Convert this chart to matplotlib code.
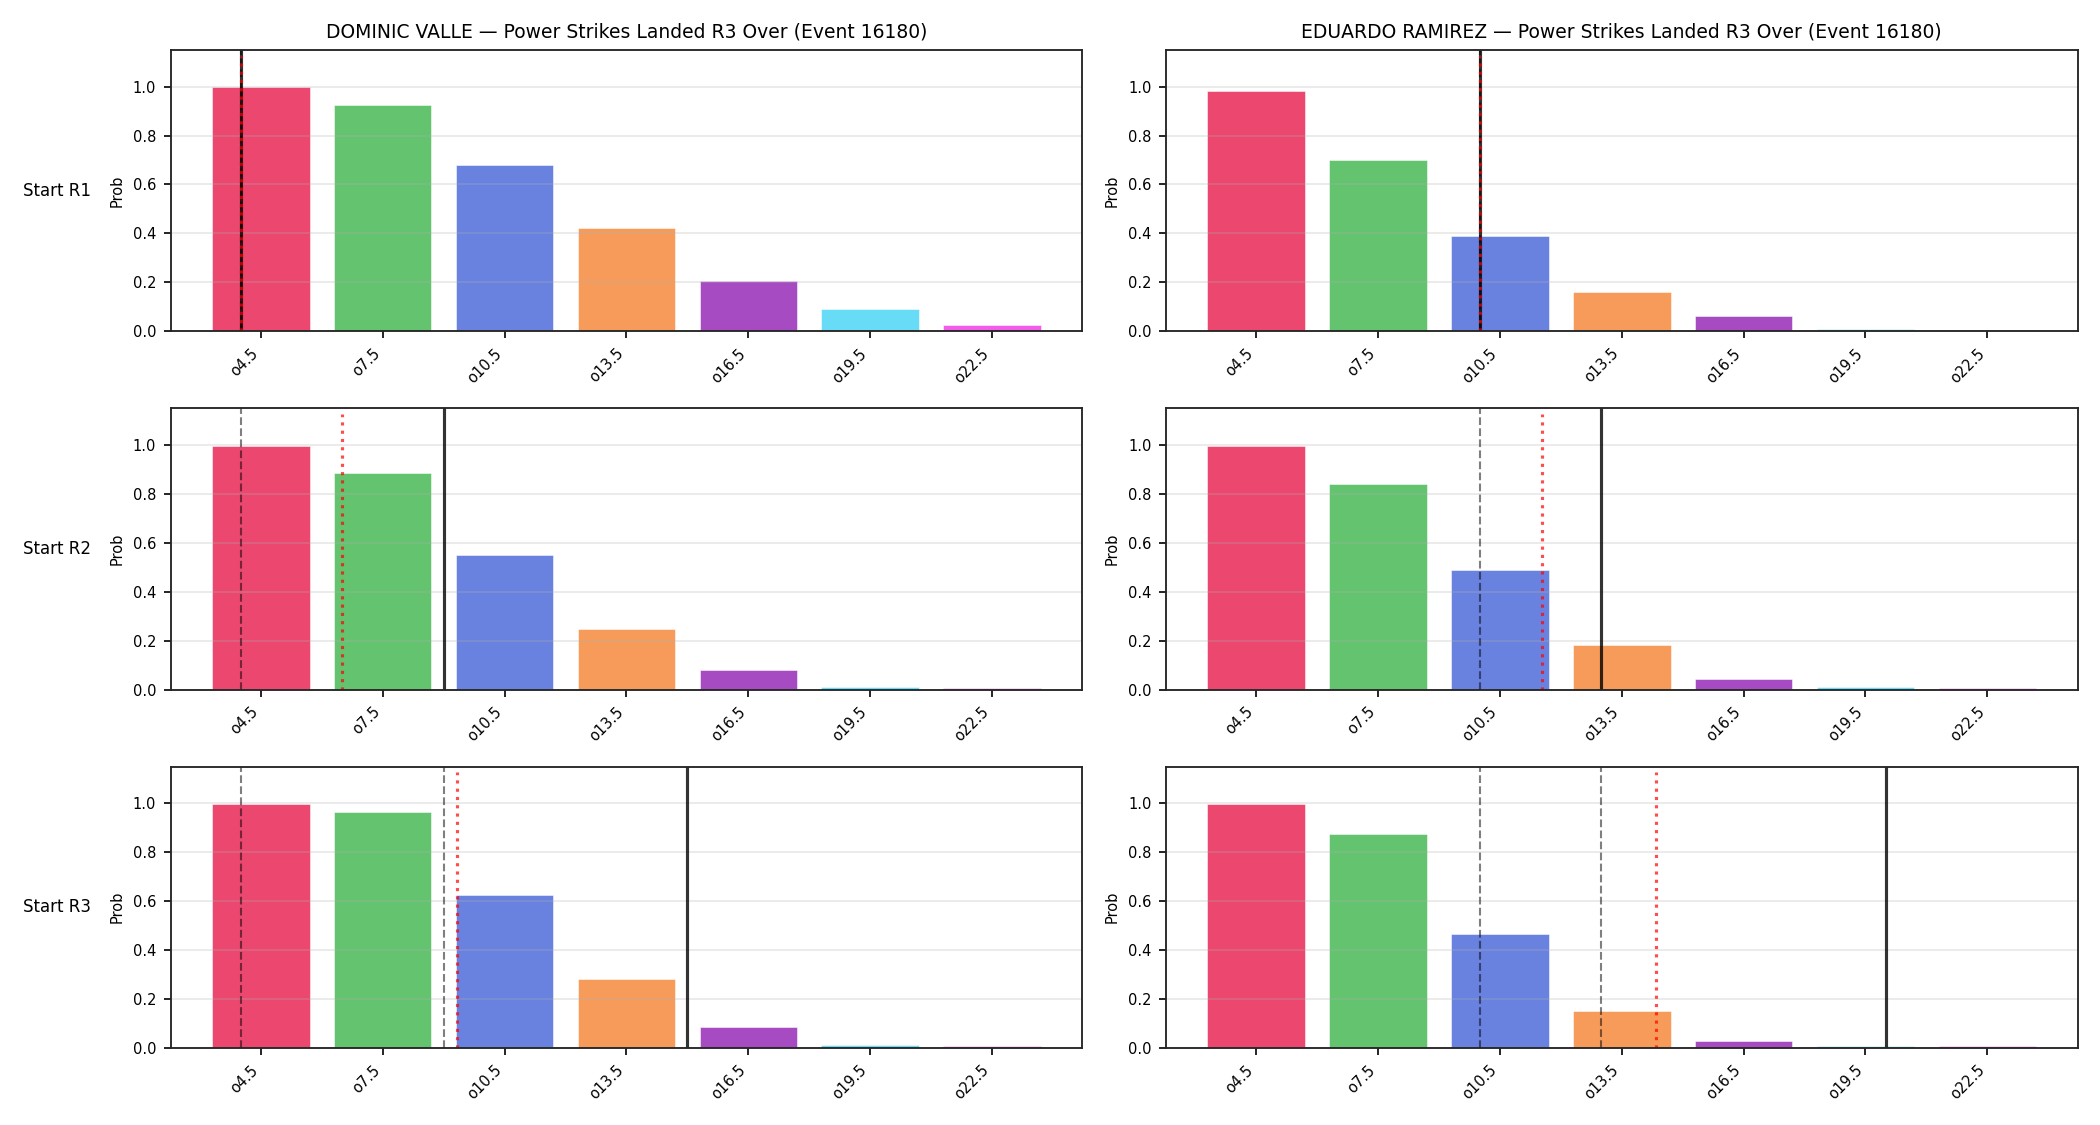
import matplotlib
matplotlib.use("Agg")
import matplotlib.pyplot as plt
import numpy as np

# over lines shown on the x axis
line_labels = ["o4.5", "o7.5", "o10.5", "o13.5", "o16.5", "o19.5", "o22.5"]
line_values = [4.5, 7.5, 10.5, 13.5, 16.5, 19.5, 22.5]
row_names = ["Start R1", "Start R2", "Start R3"]
fighters = ["DOMINIC VALLE", "EDUARDO RAMIREZ"]

# P(over) per line, one list per starting round
valle_r1 = [0.997, 0.927, 0.681, 0.422, 0.204, 0.089, 0.024]
valle_r2 = [0.996, 0.885, 0.550, 0.247, 0.081, 0.012, 0.008]
valle_r3 = [0.997, 0.964, 0.626, 0.280, 0.086, 0.012, 0.008]
ramirez_r1 = [0.982, 0.701, 0.389, 0.162, 0.062, 0.009, 0.005]
ramirez_r2 = [0.997, 0.840, 0.488, 0.182, 0.045, 0.009, 0.008]
ramirez_r3 = [0.997, 0.876, 0.467, 0.152, 0.028, 0.008, 0.008]

# reference counts (power strikes) drawn as vertical lines
valle_prev = [[4], [4], [4, 9]]       # gray dashed
valle_mean = [4, 6.5, 9.33]           # red dotted
valle_mark = [4, 9, 15]               # black solid
ramirez_prev = [[10], [10], [10, 13]]
ramirez_mean = [10, 11.54, 14.35]
ramirez_mark = [10, 13, 20]

bar_colors = ["#e6194b", "#3cb44b", "#4363d8", "#f58231", "#911eb4", "#42d4f4", "#f032e6"]

probs = [[valle_r1, ramirez_r1], [valle_r2, ramirez_r2], [valle_r3, ramirez_r3]]
prevs = [valle_prev, ramirez_prev]
means = [valle_mean, ramirez_mean]
marks = [valle_mark, ramirez_mark]


def to_pos(v):
    # map a strike count onto the categorical bar axis
    step = line_values[1] - line_values[0]
    return (v - line_values[0]) / step


fig, axes = plt.subplots(3, 2, figsize=(14, 7.5), dpi=150)
x = np.arange(len(line_labels))

for r in range(3):
    for c in range(2):
        ax = axes[r, c]
        ax.bar(x, probs[r][c], width=0.8, color=bar_colors, alpha=0.8,
               edgecolor="white", linewidth=0.3)
        for v in prevs[c][r]:
            ax.axvline(to_pos(v), color="k", alpha=0.5, linestyle="--", linewidth=1.0)
        ax.axvline(to_pos(marks[c][r]), color="k", alpha=0.8, linewidth=1.5)
        ax.axvline(to_pos(means[c][r]), ymax=0.98, color="red", alpha=0.7,
                   linestyle=":", linewidth=1.5)
        ax.set_ylim(0, 1.15)
        ax.set_xticks(x)
        ax.set_xticklabels(line_labels, rotation=45, ha="right", fontsize=7)
        ax.tick_params(axis="y", labelsize=7)
        ax.set_ylabel("Prob", fontsize=7)
        ax.grid(axis="y", alpha=0.3)
        for s in ax.spines.values():
            s.set_color("#262626")
            s.set_linewidth(0.9)
        if r == 0:
            ax.set_title(f"{fighters[c]} — Power Strikes Landed R3 Over (Event 16180)", fontsize=9)
        if c == 0:
            ax.annotate(row_names[r], xy=(0, 0.5), xytext=(-ax.yaxis.labelpad - 5, 0),
                        xycoords=ax.yaxis.label, textcoords="offset points",
                        ha="right", va="center", fontsize=8)

fig.tight_layout()
fig.savefig("out.png", dpi=150)
